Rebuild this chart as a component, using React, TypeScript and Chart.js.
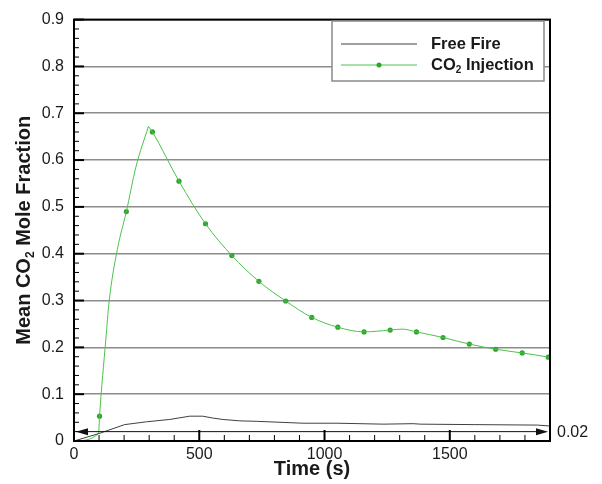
import React, { useEffect, useRef } from "react";
import { Chart, registerables } from "chart.js";

Chart.register(...registerables);

// ---- data ----
const X_MIN = 0;
const X_MAX = 1900;
const Y_MIN = 0;
const Y_MAX = 0.9;
const X_TICKS = [0, 500, 1000, 1500];
const Y_TICKS = [0, 0.1, 0.2, 0.3, 0.4, 0.5, 0.6, 0.7, 0.8, 0.9];
const X_MINOR_STEP = 100;
const Y_MINOR_STEP = 0.02;

const X_TITLE = "Time (s)";
const Y_TITLE = "Mean CO₂ Mole Fraction";

const FREE_FIRE_LABEL = "Free Fire";
const freeFireTime = [0, 100, 202, 289, 382, 462, 514, 554, 594, 662, 730, 914, 1050, 1234, 1354, 1382, 1600, 1850, 1900];
const freeFireValue = [0, 0.016, 0.035, 0.041, 0.046, 0.053, 0.053, 0.049, 0.046, 0.043, 0.042, 0.038, 0.038, 0.036, 0.037, 0.036, 0.035, 0.034, 0.032];

const INJECTION_LABEL = "CO₂ Injection";
// rising branch (up to the peak) and falling branch (from the peak)
const injectionRiseTime = [0, 98, 102, 127, 140, 173, 209, 247, 297];
const injectionRiseValue = [0, 0.016, 0.053, 0.217, 0.297, 0.409, 0.49, 0.585, 0.672];
const injectionFallTime = [297, 313, 419, 525, 630, 738, 845, 949, 1053, 1158, 1262, 1310, 1367, 1473, 1578, 1683, 1789, 1893, 1900];
const injectionFallValue = [0.672, 0.66, 0.555, 0.464, 0.396, 0.341, 0.299, 0.264, 0.243, 0.233, 0.237, 0.239, 0.233, 0.221, 0.207, 0.196, 0.188, 0.179, 0.178];
const injectionMarkerTime = [102, 209, 313, 419, 525, 630, 738, 845, 949, 1053, 1158, 1262, 1367, 1473, 1578, 1683, 1789, 1893];
const injectionMarkerValue = [0.053, 0.49, 0.66, 0.555, 0.464, 0.396, 0.341, 0.299, 0.264, 0.243, 0.233, 0.237, 0.233, 0.221, 0.207, 0.196, 0.188, 0.179];

const ARROW_LEVEL = 0.02;
const ARROW_LABEL = "0.02";

// ---- styles ----
const FONT = '"Liberation Sans", Arial, Helvetica, sans-serif';
const BLACK_LINE = "#404040";
const GREEN_LINE = "#4cc24c";
const GREEN_MARK = "#2ea62e";
const GRID = "#8c8c8c";
const TEXT = "#1a1a1a";

function drawSubText(ctx: CanvasRenderingContext2D, text: string, x: number, y: number, size: number, align: "left" | "center") {
  const parts = text.split("₂");
  const subSize = Math.round(size * 0.62);
  const mainFont = `bold ${size}px ${FONT}`;
  const subFont = `bold ${subSize}px ${FONT}`;
  let total = 0;
  parts.forEach((p, i) => {
    ctx.font = mainFont;
    total += ctx.measureText(p).width;
    if (i < parts.length - 1) {
      ctx.font = subFont;
      total += ctx.measureText("2").width;
    }
  });
  let cx = align === "center" ? x - total / 2 : x;
  ctx.textAlign = "left";
  ctx.textBaseline = "middle";
  parts.forEach((p, i) => {
    ctx.font = mainFont;
    ctx.fillText(p, cx, y);
    cx += ctx.measureText(p).width;
    if (i < parts.length - 1) {
      ctx.font = subFont;
      ctx.fillText("2", cx, y + size * 0.32);
      cx += ctx.measureText("2").width;
    }
  });
}

const decorPlugin = {
  id: "decor",
  afterDatasetsDraw(chart: any) {
    const { ctx, chartArea: a, scales } = chart;
    const xs = scales.x;
    const ys = scales.y;
    ctx.save();

    // arrow annotation
    const ay = ys.getPixelForValue(ARROW_LEVEL);
    ctx.strokeStyle = "#111";
    ctx.fillStyle = "#111";
    ctx.lineWidth = 1;
    ctx.beginPath();
    ctx.moveTo(a.left + 4, ay);
    ctx.lineTo(a.right - 4, ay);
    ctx.stroke();
    ctx.beginPath();
    ctx.moveTo(a.left + 2, ay);
    ctx.lineTo(a.left + 14, ay - 3.5);
    ctx.lineTo(a.left + 14, ay + 3.5);
    ctx.closePath();
    ctx.fill();
    ctx.beginPath();
    ctx.moveTo(a.right - 2, ay);
    ctx.lineTo(a.right - 14, ay - 3.5);
    ctx.lineTo(a.right - 14, ay + 3.5);
    ctx.closePath();
    ctx.fill();
    ctx.font = `16px ${FONT}`;
    ctx.fillStyle = TEXT;
    ctx.textAlign = "left";
    ctx.textBaseline = "middle";
    ctx.fillText(ARROW_LABEL, a.right + 7, ay + 1);

    // inner ticks
    ctx.strokeStyle = "#000";
    const nY = Math.round((Y_MAX - Y_MIN) / Y_MINOR_STEP);
    for (let i = 0; i <= nY; i++) {
      const v = Y_MIN + i * Y_MINOR_STEP;
      const py = ys.getPixelForValue(v);
      const major = i % 5 === 0;
      ctx.lineWidth = major ? 2 : 1;
      ctx.beginPath();
      ctx.moveTo(a.left, py);
      ctx.lineTo(a.left + (major ? 10 : 5), py);
      ctx.stroke();
    }
    const nX = Math.round((X_MAX - X_MIN) / X_MINOR_STEP);
    for (let i = 0; i <= nX; i++) {
      const v = X_MIN + i * X_MINOR_STEP;
      const px = xs.getPixelForValue(v);
      const major = i % 5 === 0;
      ctx.lineWidth = major ? 2 : 1;
      ctx.beginPath();
      ctx.moveTo(px, a.bottom);
      ctx.lineTo(px, a.bottom - (major ? 11 : 6));
      ctx.stroke();
    }

    // frame
    ctx.lineWidth = 2;
    ctx.strokeStyle = "#000";
    ctx.strokeRect(a.left, a.top, a.right - a.left, a.bottom - a.top);

    // legend
    const lx = 332, ly = 21, lw = 212, lh = 60;
    ctx.fillStyle = "#fff";
    ctx.fillRect(lx, ly, lw, lh);
    ctx.strokeStyle = "#8a8a8a";
    ctx.lineWidth = 1.5;
    ctx.strokeRect(lx, ly, lw, lh);
    const rows = [
      { label: FREE_FIRE_LABEL, color: BLACK_LINE, marker: false, y: 44 },
      { label: INJECTION_LABEL, color: GREEN_LINE, marker: true, y: 65 },
    ];
    rows.forEach((r) => {
      ctx.strokeStyle = r.color;
      ctx.lineWidth = 1;
      ctx.beginPath();
      ctx.moveTo(341, r.y);
      ctx.lineTo(417, r.y);
      ctx.stroke();
      if (r.marker) {
        ctx.fillStyle = GREEN_MARK;
        ctx.beginPath();
        ctx.arc(379, r.y, 2.5, 0, Math.PI * 2);
        ctx.fill();
      }
      ctx.fillStyle = TEXT;
      drawSubText(ctx, r.label, 431, r.y, 16.5, "left");
    });

    // axis titles
    ctx.fillStyle = TEXT;
    drawSubText(ctx, X_TITLE, (a.left + a.right) / 2, 469, 20, "center");
    ctx.save();
    ctx.translate(24, (a.top + a.bottom) / 2);
    ctx.rotate(-Math.PI / 2);
    drawSubText(ctx, Y_TITLE, 0, 0, 20, "center");
    ctx.restore();

    ctx.restore();
  },
};

export default function App() {
  const ref = useRef<HTMLCanvasElement>(null);
  useEffect(() => {
    if (!ref.current) return;
    const chart = new Chart(ref.current, {
      type: "line",
      data: {
        datasets: [
          {
            label: FREE_FIRE_LABEL,
            data: freeFireTime.map((t, i) => ({ x: t, y: freeFireValue[i] })),
            borderColor: BLACK_LINE,
            borderWidth: 1,
            pointRadius: 0,
            tension: 0,
          },
          {
            label: INJECTION_LABEL + " (rise)",
            data: injectionRiseTime.map((t, i) => ({ x: t, y: injectionRiseValue[i] })),
            borderColor: GREEN_LINE,
            borderWidth: 1,
            pointRadius: 0,
            cubicInterpolationMode: "monotone",
          },
          {
            label: INJECTION_LABEL,
            data: injectionFallTime.map((t, i) => ({ x: t, y: injectionFallValue[i] })),
            borderColor: GREEN_LINE,
            borderWidth: 1,
            pointRadius: 0,
            cubicInterpolationMode: "monotone",
          },
          {
            label: INJECTION_LABEL + " markers",
            data: injectionMarkerTime.map((t, i) => ({ x: t, y: injectionMarkerValue[i] })),
            showLine: false,
            borderColor: GREEN_MARK,
            backgroundColor: GREEN_MARK,
            pointRadius: 2.6,
            pointBorderWidth: 0,
          } as any,
        ],
      },
      options: {
        responsive: false,
        animation: false,
        devicePixelRatio: 1,
        layout: { padding: { left: 0, right: 52, top: 14, bottom: 0 } },
        plugins: { legend: { display: false }, tooltip: { enabled: false } },
        scales: {
          x: {
            type: "linear",
            min: X_MIN,
            max: X_MAX,
            afterBuildTicks: (s: any) => {
              s.ticks = X_TICKS.map((v) => ({ value: v }));
            },
            afterFit: (s: any) => {
              s.height = 43;
            },
            grid: { display: false, drawTicks: false },
            border: { display: false },
            ticks: {
              maxRotation: 0,
              autoSkip: false,
              padding: 4,
              color: TEXT,
              font: { family: FONT, size: 16 },
              callback: (v: any) => String(v),
            },
          },
          y: {
            type: "linear",
            min: Y_MIN,
            max: Y_MAX,
            afterBuildTicks: (s: any) => {
              s.ticks = Y_TICKS.map((v) => ({ value: v }));
            },
            afterFit: (s: any) => {
              s.width = 74;
            },
            grid: { color: GRID, lineWidth: 1.5, drawTicks: false },
            border: { display: false },
            ticks: {
              autoSkip: false,
              padding: 10,
              color: TEXT,
              font: { family: FONT, size: 16 },
              callback: (v: any) => (Number(v) === 0 ? "0" : Number(v).toFixed(1)),
            },
          },
        },
      },
      plugins: [decorPlugin],
    } as any);
    return () => chart.destroy();
  }, []);
  return (
    <div style={{ position: "fixed", left: 0, top: 0, width: 602, height: 484, background: "#fff" }}>
      <canvas ref={ref} width={602} height={484} style={{ display: "block", width: 602, height: 484 }} />
    </div>
  );
}
